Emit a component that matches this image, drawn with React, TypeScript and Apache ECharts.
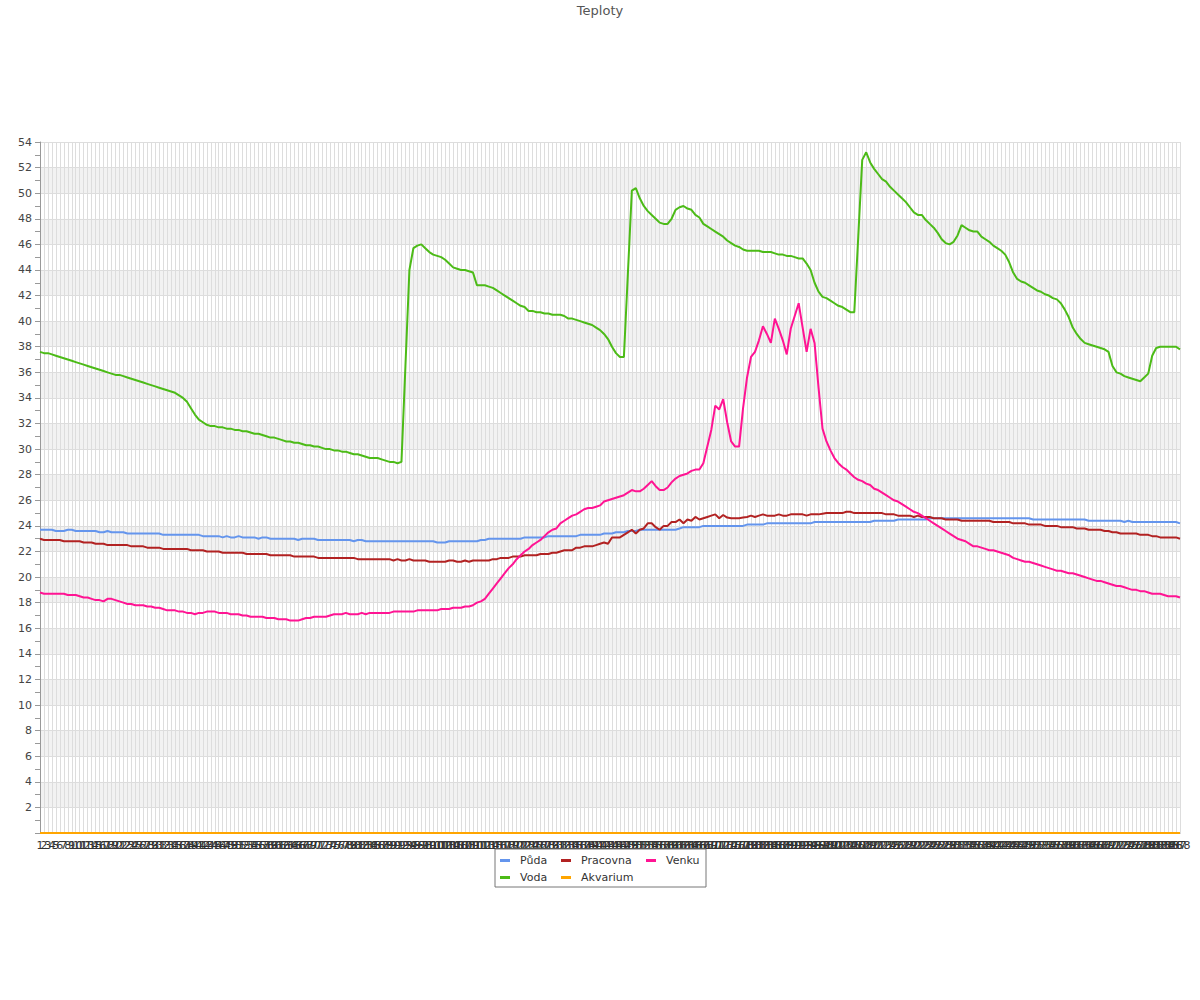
import React, { useEffect, useRef } from "react";
import * as echarts from "echarts";

const TITLE = "Teploty";
const COUNT = 288;
const categories: string[] = Array.from({ length: COUNT }, (_, i) => String(i + 1));

const puda: number[] = [
  23.7, 23.7, 23.7, 23.7, 23.6, 23.6, 23.6, 23.7, 23.7, 23.6,
  23.6, 23.6, 23.6, 23.6, 23.6, 23.5, 23.5, 23.6, 23.5, 23.5,
  23.5, 23.5, 23.4, 23.4, 23.4, 23.4, 23.4, 23.4, 23.4, 23.4,
  23.4, 23.3, 23.3, 23.3, 23.3, 23.3, 23.3, 23.3, 23.3, 23.3,
  23.3, 23.2, 23.2, 23.2, 23.2, 23.2, 23.1, 23.2, 23.1, 23.1,
  23.2, 23.1, 23.1, 23.1, 23.1, 23.0, 23.1, 23.1, 23.0, 23.0,
  23.0, 23.0, 23.0, 23.0, 23.0, 22.9, 23.0, 23.0, 23.0, 23.0,
  22.9, 22.9, 22.9, 22.9, 22.9, 22.9, 22.9, 22.9, 22.9, 22.8,
  22.9, 22.9, 22.8, 22.8, 22.8, 22.8, 22.8, 22.8, 22.8, 22.8,
  22.8, 22.8, 22.8, 22.8, 22.8, 22.8, 22.8, 22.8, 22.8, 22.8,
  22.7, 22.7, 22.7, 22.8, 22.8, 22.8, 22.8, 22.8, 22.8, 22.8,
  22.8, 22.9, 22.9, 23.0, 23.0, 23.0, 23.0, 23.0, 23.0, 23.0,
  23.0, 23.0, 23.1, 23.1, 23.1, 23.1, 23.1, 23.1, 23.2, 23.2,
  23.2, 23.2, 23.2, 23.2, 23.2, 23.2, 23.3, 23.3, 23.3, 23.3,
  23.3, 23.3, 23.4, 23.4, 23.4, 23.5, 23.5, 23.5, 23.6, 23.6,
  23.6, 23.7, 23.7, 23.7, 23.7, 23.7, 23.7, 23.7, 23.7, 23.7,
  23.7, 23.8, 23.9, 23.9, 23.9, 23.9, 23.9, 24.0, 24.0, 24.0,
  24.0, 24.0, 24.0, 24.0, 24.0, 24.0, 24.0, 24.0, 24.1, 24.1,
  24.1, 24.1, 24.1, 24.2, 24.2, 24.2, 24.2, 24.2, 24.2, 24.2,
  24.2, 24.2, 24.2, 24.2, 24.2, 24.3, 24.3, 24.3, 24.3, 24.3,
  24.3, 24.3, 24.3, 24.3, 24.3, 24.3, 24.3, 24.3, 24.3, 24.3,
  24.4, 24.4, 24.4, 24.4, 24.4, 24.4, 24.5, 24.5, 24.5, 24.5,
  24.5, 24.5, 24.5, 24.5, 24.6, 24.6, 24.6, 24.6, 24.6, 24.6,
  24.6, 24.6, 24.6, 24.6, 24.6, 24.6, 24.6, 24.6, 24.6, 24.6,
  24.6, 24.6, 24.6, 24.6, 24.6, 24.6, 24.6, 24.6, 24.6, 24.6,
  24.5, 24.5, 24.5, 24.5, 24.5, 24.5, 24.5, 24.5, 24.5, 24.5,
  24.5, 24.5, 24.5, 24.5, 24.4, 24.4, 24.4, 24.4, 24.4, 24.4,
  24.4, 24.4, 24.4, 24.3, 24.4, 24.3, 24.3, 24.3, 24.3, 24.3,
  24.3, 24.3, 24.3, 24.3, 24.3, 24.3, 24.3, 24.2,
];

const pracovna: number[] = [
  23.0, 22.9, 22.9, 22.9, 22.9, 22.9, 22.8, 22.8, 22.8, 22.8,
  22.8, 22.7, 22.7, 22.7, 22.6, 22.6, 22.6, 22.5, 22.5, 22.5,
  22.5, 22.5, 22.5, 22.4, 22.4, 22.4, 22.4, 22.3, 22.3, 22.3,
  22.3, 22.2, 22.2, 22.2, 22.2, 22.2, 22.2, 22.2, 22.1, 22.1,
  22.1, 22.1, 22.0, 22.0, 22.0, 22.0, 21.9, 21.9, 21.9, 21.9,
  21.9, 21.9, 21.8, 21.8, 21.8, 21.8, 21.8, 21.8, 21.7, 21.7,
  21.7, 21.7, 21.7, 21.7, 21.6, 21.6, 21.6, 21.6, 21.6, 21.6,
  21.5, 21.5, 21.5, 21.5, 21.5, 21.5, 21.5, 21.5, 21.5, 21.5,
  21.4, 21.4, 21.4, 21.4, 21.4, 21.4, 21.4, 21.4, 21.4, 21.3,
  21.4, 21.3, 21.3, 21.4, 21.3, 21.3, 21.3, 21.3, 21.2, 21.2,
  21.2, 21.2, 21.2, 21.3, 21.3, 21.2, 21.2, 21.3, 21.2, 21.3,
  21.3, 21.3, 21.3, 21.3, 21.4, 21.4, 21.5, 21.5, 21.5, 21.6,
  21.6, 21.6, 21.7, 21.7, 21.7, 21.7, 21.8, 21.8, 21.8, 21.9,
  21.9, 22.0, 22.1, 22.1, 22.1, 22.3, 22.3, 22.4, 22.4, 22.4,
  22.5, 22.6, 22.7, 22.6, 23.1, 23.1, 23.1, 23.3, 23.5, 23.7,
  23.4, 23.7, 23.8, 24.2, 24.2, 23.9, 23.7, 24.0, 24.0, 24.3,
  24.3, 24.5, 24.2, 24.5, 24.4, 24.7, 24.5, 24.6, 24.7, 24.8,
  24.9, 24.6, 24.85, 24.65, 24.6, 24.6, 24.6, 24.65, 24.7, 24.8,
  24.7, 24.8, 24.9, 24.8, 24.8, 24.8, 24.9, 24.8, 24.8, 24.9,
  24.9, 24.9, 24.9, 24.8, 24.9, 24.9, 24.9, 24.95, 25.0, 25.0,
  25.0, 25.0, 25.0, 25.1, 25.1, 25.0, 25.0, 25.0, 25.0, 25.0,
  25.0, 25.0, 25.0, 24.9, 24.9, 24.9, 24.8, 24.8, 24.8, 24.8,
  24.7, 24.8, 24.7, 24.7, 24.7, 24.6, 24.6, 24.6, 24.5, 24.5,
  24.5, 24.5, 24.4, 24.4, 24.4, 24.4, 24.4, 24.4, 24.4, 24.4,
  24.3, 24.3, 24.3, 24.3, 24.3, 24.2, 24.2, 24.2, 24.2, 24.1,
  24.1, 24.1, 24.1, 24.0, 24.0, 24.0, 24.0, 23.9, 23.9, 23.9,
  23.9, 23.8, 23.8, 23.8, 23.7, 23.7, 23.7, 23.7, 23.6, 23.6,
  23.5, 23.5, 23.4, 23.4, 23.4, 23.4, 23.4, 23.3, 23.3, 23.3,
  23.2, 23.2, 23.1, 23.1, 23.1, 23.1, 23.1, 23.0,
];

const venku: number[] = [
  18.8, 18.7, 18.7, 18.7, 18.7, 18.7, 18.7, 18.6, 18.6, 18.6,
  18.5, 18.4, 18.4, 18.3, 18.2, 18.2, 18.1, 18.3, 18.3, 18.2,
  18.1, 18.0, 17.9, 17.9, 17.8, 17.8, 17.8, 17.7, 17.7, 17.6,
  17.6, 17.5, 17.4, 17.4, 17.4, 17.3, 17.3, 17.2, 17.2, 17.1,
  17.2, 17.2, 17.3, 17.3, 17.3, 17.2, 17.2, 17.2, 17.1, 17.1,
  17.1, 17.0, 17.0, 16.9, 16.9, 16.9, 16.9, 16.8, 16.8, 16.8,
  16.7, 16.7, 16.7, 16.6, 16.6, 16.6, 16.7, 16.8, 16.8, 16.9,
  16.9, 16.9, 16.9, 17.0, 17.1, 17.1, 17.1, 17.2, 17.1, 17.1,
  17.1, 17.2, 17.1, 17.2, 17.2, 17.2, 17.2, 17.2, 17.2, 17.3,
  17.3, 17.3, 17.3, 17.3, 17.3, 17.4, 17.4, 17.4, 17.4, 17.4,
  17.4, 17.5, 17.5, 17.5, 17.6, 17.6, 17.6, 17.7, 17.7, 17.8,
  18.0, 18.1, 18.3, 18.7, 19.1, 19.5, 19.9, 20.3, 20.7, 21.0,
  21.4, 21.7, 22.0, 22.2, 22.5, 22.7, 22.9, 23.2, 23.5, 23.7,
  23.8, 24.2, 24.4, 24.6, 24.8, 24.9, 25.1, 25.3, 25.4, 25.4,
  25.5, 25.6, 25.9, 26.0, 26.1, 26.2, 26.3, 26.4, 26.6, 26.8,
  26.7, 26.7, 26.9, 27.2, 27.5, 27.1, 26.8, 26.8, 27.0, 27.4,
  27.7, 27.9, 28.0, 28.1, 28.3, 28.4, 28.4, 28.9, 30.2, 31.5,
  33.4, 33.1, 33.9, 32.1, 30.6, 30.2, 30.2, 33.2, 35.6, 37.2,
  37.6, 38.5, 39.6, 39.0, 38.3, 40.2, 39.4, 38.5, 37.4, 39.4,
  40.4, 41.4, 39.5, 37.6, 39.4, 38.3, 34.8, 31.6, 30.6, 29.9,
  29.3, 28.9, 28.6, 28.4, 28.1, 27.8, 27.6, 27.5, 27.3, 27.2,
  26.9, 26.8, 26.6, 26.4, 26.2, 26.0, 25.9, 25.7, 25.5, 25.3,
  25.1, 25.0, 24.8, 24.6, 24.4, 24.2, 24.0, 23.8, 23.6, 23.4,
  23.2, 23.0, 22.9, 22.8, 22.6, 22.4, 22.4, 22.3, 22.2, 22.1,
  22.1, 22.0, 21.9, 21.8, 21.7, 21.5, 21.4, 21.3, 21.2, 21.2,
  21.1, 21.0, 20.9, 20.8, 20.7, 20.6, 20.5, 20.5, 20.4, 20.3,
  20.3, 20.2, 20.1, 20.0, 19.9, 19.8, 19.7, 19.7, 19.6, 19.5,
  19.4, 19.3, 19.3, 19.2, 19.1, 19.0, 19.0, 18.9, 18.9, 18.8,
  18.7, 18.7, 18.7, 18.6, 18.5, 18.5, 18.5, 18.4,
];

const voda: number[] = [
  37.6, 37.5, 37.5, 37.4, 37.3, 37.2, 37.1, 37.0, 36.9, 36.8,
  36.7, 36.6, 36.5, 36.4, 36.3, 36.2, 36.1, 36.0, 35.9, 35.8,
  35.8, 35.7, 35.6, 35.5, 35.4, 35.3, 35.2, 35.1, 35.0, 34.9,
  34.8, 34.7, 34.6, 34.5, 34.4, 34.2, 34.0, 33.7, 33.2, 32.7,
  32.3, 32.1, 31.9, 31.8, 31.8, 31.7, 31.7, 31.6, 31.6, 31.5,
  31.5, 31.4, 31.4, 31.3, 31.2, 31.2, 31.1, 31.0, 30.9, 30.9,
  30.8, 30.7, 30.6, 30.6, 30.5, 30.5, 30.4, 30.3, 30.3, 30.2,
  30.2, 30.1, 30.0, 30.0, 29.9, 29.9, 29.8, 29.8, 29.7, 29.6,
  29.6, 29.5, 29.4, 29.3, 29.3, 29.3, 29.2, 29.1, 29.0, 29.0,
  28.9, 29.0, 36.5, 44.0, 45.7, 45.9, 46.0, 45.7, 45.4, 45.2,
  45.1, 45.0, 44.8, 44.5, 44.2, 44.1, 44.0, 44.0, 43.9, 43.8,
  42.8, 42.8, 42.8, 42.7, 42.6, 42.4, 42.2, 42.0, 41.8, 41.6,
  41.4, 41.2, 41.1, 40.8, 40.8, 40.7, 40.7, 40.6, 40.6, 40.5,
  40.5, 40.5, 40.4, 40.2, 40.2, 40.1, 40.0, 39.9, 39.8, 39.7,
  39.5, 39.3, 39.0, 38.6, 38.0, 37.5, 37.2, 37.2, 43.7, 50.2,
  50.4, 49.6, 49.0, 48.6, 48.3, 48.0, 47.7, 47.6, 47.6, 48.0,
  48.7, 48.9, 49.0, 48.8, 48.7, 48.3, 48.1, 47.6, 47.4, 47.2,
  47.0, 46.8, 46.6, 46.3, 46.1, 45.9, 45.8, 45.6, 45.5, 45.5,
  45.5, 45.5, 45.4, 45.4, 45.4, 45.3, 45.2, 45.2, 45.1, 45.1,
  45.0, 44.9, 44.9, 44.5, 44.0, 43.0, 42.3, 41.9, 41.8, 41.6,
  41.4, 41.2, 41.1, 40.9, 40.7, 40.7, 46.6, 52.6, 53.2, 52.4,
  51.9, 51.5, 51.1, 50.9, 50.5, 50.2, 49.9, 49.6, 49.3, 48.9,
  48.5, 48.3, 48.3, 47.9, 47.6, 47.3, 46.9, 46.4, 46.1, 46.0,
  46.2, 46.7, 47.5, 47.3, 47.1, 47.0, 47.0, 46.6, 46.4, 46.2,
  45.9, 45.7, 45.5, 45.2, 44.6, 43.8, 43.3, 43.1, 43.0, 42.8,
  42.6, 42.4, 42.3, 42.1, 42.0, 41.8, 41.7, 41.4, 40.9, 40.3,
  39.5, 39.0, 38.6, 38.3, 38.2, 38.1, 38.0, 37.9, 37.8, 37.6,
  36.5, 36.0, 35.9, 35.7, 35.6, 35.5, 35.4, 35.3, 35.6, 35.9,
  37.3, 37.9, 38.0, 38.0, 38.0, 38.0, 38.0, 37.8,
];

const akvarium: number[] = [
  0, 0, 0, 0, 0, 0, 0, 0, 0, 0, 0, 0, 0, 0, 0, 0, 0, 0, 0, 0, 0, 0, 0, 0,
  0, 0, 0, 0, 0, 0, 0, 0, 0, 0, 0, 0, 0, 0, 0, 0, 0, 0, 0, 0, 0, 0, 0, 0,
  0, 0, 0, 0, 0, 0, 0, 0, 0, 0, 0, 0, 0, 0, 0, 0, 0, 0, 0, 0, 0, 0, 0, 0,
  0, 0, 0, 0, 0, 0, 0, 0, 0, 0, 0, 0, 0, 0, 0, 0, 0, 0, 0, 0, 0, 0, 0, 0,
  0, 0, 0, 0, 0, 0, 0, 0, 0, 0, 0, 0, 0, 0, 0, 0, 0, 0, 0, 0, 0, 0, 0, 0,
  0, 0, 0, 0, 0, 0, 0, 0, 0, 0, 0, 0, 0, 0, 0, 0, 0, 0, 0, 0, 0, 0, 0, 0,
  0, 0, 0, 0, 0, 0, 0, 0, 0, 0, 0, 0, 0, 0, 0, 0, 0, 0, 0, 0, 0, 0, 0, 0,
  0, 0, 0, 0, 0, 0, 0, 0, 0, 0, 0, 0, 0, 0, 0, 0, 0, 0, 0, 0, 0, 0, 0, 0,
  0, 0, 0, 0, 0, 0, 0, 0, 0, 0, 0, 0, 0, 0, 0, 0, 0, 0, 0, 0, 0, 0, 0, 0,
  0, 0, 0, 0, 0, 0, 0, 0, 0, 0, 0, 0, 0, 0, 0, 0, 0, 0, 0, 0, 0, 0, 0, 0,
  0, 0, 0, 0, 0, 0, 0, 0, 0, 0, 0, 0, 0, 0, 0, 0, 0, 0, 0, 0, 0, 0, 0, 0,
  0, 0, 0, 0, 0, 0, 0, 0, 0, 0, 0, 0, 0, 0, 0, 0, 0, 0, 0, 0, 0, 0, 0, 0,
];

const seriesNames = ["Půda", "Pracovna", "Venku", "Voda", "Akvarium"];
const seriesColors = ["#6495ED", "#B22222", "#FF1493", "#4CBB17", "#FFA500"];
const seriesData = [puda, pracovna, venku, voda, akvarium];
// legend column text widths (layout only)
const legendTextWidths = [37, 61, 36, 37, 61];

const FONT = "DejaVu Sans";

export default function App() {
  const ref = useRef<HTMLDivElement>(null);
  useEffect(() => {
    if (!ref.current) return;
    const chart = echarts.init(ref.current, null, { renderer: "svg" });
    chart.setOption({
      animation: false,
      backgroundColor: "#ffffff",
      title: {
        text: TITLE,
        left: "center",
        top: 4,
        padding: 0,
        textStyle: { fontFamily: FONT, fontSize: 13, fontWeight: "normal", color: "#555555" },
      },
      legend: {
        data: seriesNames.map((name, k) => ({
          name,
          textStyle: { width: legendTextWidths[k] },
        })),
        left: 495,
        top: 849,
        width: 203,
        padding: [5, 4, 3, 5],
        itemGap: 4,
        itemWidth: 15,
        itemHeight: 3,
        icon: "path://M0,0H10V3H0Z M15,0L15,3",
        borderColor: "#777777",
        borderWidth: 1,
        textStyle: { fontFamily: FONT, fontSize: 11, color: "#333333", lineHeight: 13 },
      },
      grid: { left: 40, right: 20, top: 142, bottom: 167, containLabel: false },
      xAxis: {
        type: "category",
        data: categories,
        boundaryGap: false,
        axisLine: { show: true, lineStyle: { color: "#999999" } },
        axisTick: { show: false },
        axisLabel: { interval: 0, fontFamily: FONT, fontSize: 11, color: "#333333", margin: 7 },
        splitLine: { show: true, interval: 0, lineStyle: { color: "#dddddd", width: 1 } },
      },
      yAxis: {
        type: "value",
        min: 0,
        max: 54,
        interval: 2,
        axisLine: { show: true, lineStyle: { color: "#999999" } },
        axisTick: { show: true, length: 5, lineStyle: { color: "#999999" } },
        minorTick: { show: true, splitNumber: 2, length: 5, lineStyle: { color: "#999999" } },
        axisLabel: {
          fontFamily: FONT,
          fontSize: 11,
          color: "#444444",
          margin: 8,
          formatter: (v: number) => (v === 0 ? "" : String(v)),
        },
        splitLine: { show: true, lineStyle: { color: "#dddddd", width: 1 } },
        splitArea: { show: true, areaStyle: { color: ["#ffffff", "#f2f2f2"] } },
      },
      series: seriesNames.map((name, k) => ({
        name,
        type: "line",
        data: seriesData[k],
        showSymbol: false,
        symbol: "none",
        color: seriesColors[k],
        lineStyle: { width: 2, color: seriesColors[k] },
        z: k === 4 ? 3 : 2,
      })),
    });
    return () => chart.dispose();
  }, []);
  return (
    <div
      ref={ref}
      style={{ position: "absolute", left: 0, top: 0, width: 1200, height: 1000 }}
    />
  );
}
